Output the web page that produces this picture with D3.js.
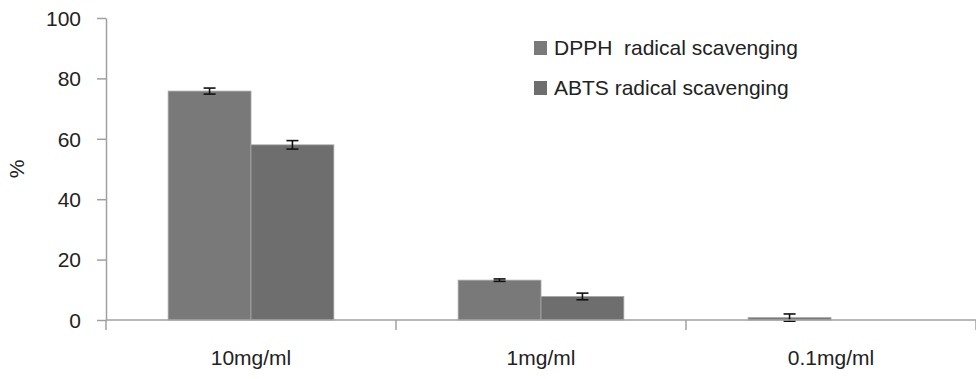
<!DOCTYPE html>
<html>
<head>
<meta charset="utf-8">
<script src="https://cdn.jsdelivr.net/npm/d3@7"></script>
<style>
  body { margin: 0; background: #fff; }
  svg text { font-family: "Liberation Sans", Arial, sans-serif; fill: #222; }
</style>
</head>
<body>
<svg id="chart" width="976" height="379"></svg>
<script>
    // data
    const categories = ["10mg/ml", "1mg/ml", "0.1mg/ml"];
    const seriesNames = ["DPPH  radical scavenging", "ABTS radical scavenging"];
    const dpphValues = [75.8, 13.2, 0.8];
    const dpphErrors = [1.0, 0.4, 1.2];
    const abtsValues = [58.0, 7.8, 0];
    const abtsErrors = [1.4, 1.1, 0];
    const yTicks = [0, 20, 40, 60, 80, 100];
    const colors = ["#797979", "#6e6e6e"];

    const margin = { top: 18, right: 0, bottom: 59, left: 106 };
    const width = 976 - margin.left - margin.right;
    const height = 379 - margin.top - margin.bottom;

    const svg = d3.select("#chart")
      .append("g")
      .attr("transform", "translate(" + margin.left + "," + margin.top + ")");

    const x0 = d3.scaleBand().domain(categories).range([0, width]).padding(0);
    const x1 = d3.scaleBand().domain([0, 1]).range([0, x0.bandwidth()])
      .paddingInner(0).paddingOuter(0.75);
    const y = d3.scaleLinear().domain([0, 100]).range([height, 0]);

    // y axis
    const yAxis = svg.append("g")
      .call(d3.axisLeft(y).tickValues(yTicks).tickSize(9).tickSizeOuter(0).tickPadding(16));
    yAxis.select(".domain").attr("stroke", "#a0a0a0").attr("stroke-width", 1.5);
    yAxis.selectAll(".tick line").attr("stroke", "#a0a0a0").attr("stroke-width", 1.5);
    yAxis.selectAll(".tick text").style("font-size", "21px").attr("dy", "0.35em");

    // bars
    const rows = categories.map(function (c, i) {
      return [
        { cat: c, s: 0, v: dpphValues[i], e: dpphErrors[i] },
        { cat: c, s: 1, v: abtsValues[i], e: abtsErrors[i] }
      ];
    });
    const groups = svg.selectAll(".grp")
      .data(rows)
      .enter().append("g")
      .attr("transform", function (d, i) { return "translate(" + x0(categories[i]) + ",0)"; });

    groups.selectAll("rect")
      .data(function (d) { return d; })
      .enter().append("rect")
      .attr("x", function (d) { return x1(d.s); })
      .attr("width", x1.bandwidth())
      .attr("y", function (d) { return y(d.v); })
      .attr("height", function (d) { return height - y(d.v); })
      .attr("fill", function (d) { return colors[d.s]; })
      .attr("stroke", "#a8a8a8")
      .attr("stroke-width", 0.8);

    // error bars
    const errs = groups.selectAll(".err")
      .data(function (d) { return d.filter(function (p) { return p.e > 0; }); })
      .enter().append("g")
      .attr("class", "err")
      .attr("stroke", "#111")
      .attr("stroke-width", 1.6);
    const cx = function (d) { return x1(d.s) + x1.bandwidth() / 2; };
    errs.append("line")
      .attr("x1", cx).attr("x2", cx)
      .attr("y1", function (d) { return y(d.v + d.e); })
      .attr("y2", function (d) { return y(d.v - d.e); });
    errs.append("line")
      .attr("x1", function (d) { return cx(d) - 6; }).attr("x2", function (d) { return cx(d) + 6; })
      .attr("y1", function (d) { return y(d.v + d.e); })
      .attr("y2", function (d) { return y(d.v + d.e); });
    errs.append("line")
      .attr("x1", function (d) { return cx(d) - 6; }).attr("x2", function (d) { return cx(d) + 6; })
      .attr("y1", function (d) { return y(d.v - d.e); })
      .attr("y2", function (d) { return y(d.v - d.e); });

    // x axis (ticks between categories)
    const xAxisG = svg.append("g").attr("transform", "translate(0," + height + ")");
    xAxisG.append("line")
      .attr("x1", 0).attr("x2", width)
      .attr("stroke", "#a0a0a0").attr("stroke-width", 1.5);
    const bounds = categories.map(function (c) { return x0(c); }).concat([width]);
    xAxisG.selectAll(".xt")
      .data(bounds)
      .enter().append("line")
      .attr("x1", function (d) { return d; }).attr("x2", function (d) { return d; })
      .attr("y1", 0).attr("y2", 10)
      .attr("stroke", "#a0a0a0").attr("stroke-width", 1.5);
    xAxisG.selectAll(".xl")
      .data(categories)
      .enter().append("text")
      .attr("x", function (d) { return x0(d) + x0.bandwidth() / 2; })
      .attr("y", 45)
      .attr("text-anchor", "middle")
      .style("font-size", "21px")
      .text(function (d) { return d; });

    // y label
    svg.append("text")
      .attr("transform", "translate(" + (-82) + "," + (height / 2) + ") rotate(-90)")
      .attr("text-anchor", "middle")
      .style("font-size", "21px")
      .text("%");

    // legend
    const legend = svg.append("g")
      .attr("class", "legend")
      .attr("transform", "translate(" + (x0(categories[1]) + 138) + ", 30)");
    seriesNames.forEach(function (name, i) {
      legend.append("rect")
        .attr("x", 0)
        .attr("y", i * 40 - 7)
        .attr("width", 13)
        .attr("height", 14)
        .style("fill", colors[i]);
      legend.append("text")
        .attr("x", 20)
        .attr("y", i * 40)
        .attr("dy", ".35em")
        .style("text-anchor", "start")
        .style("font-size", "21px")
        .style("white-space", "pre")
        .text(name);
    });
</script>
</body>
</html>
